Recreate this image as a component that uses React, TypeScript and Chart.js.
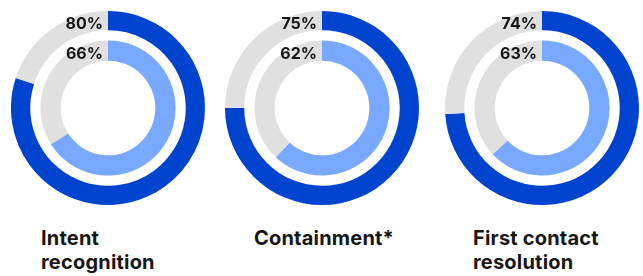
import React, { useEffect, useRef } from "react";
import { Chart, registerables } from "chart.js";

Chart.register(...registerables);

const categories = ["Intent\nrecognition", "Containment*", "First contact\nresolution"];
const outerValues = [80, 75, 74];
const innerValues = [66, 62, 63];

const OUTER_COLOR = "#0043ce";
const INNER_COLOR = "#78a9ff";
const GREY = "#e0e0e0";
const TEXT = "#161616";

const centersX = [108, 322, 542];
const titleLeft = [41, 254, 473];
const RADIUS = 97;
const CENTER_Y = 108;

const labelPlugin = {
  id: "ringLabels",
  afterDatasetsDraw(chart: any) {
    const ctx = chart.ctx;
    ctx.save();
    ctx.font = "700 16px Inter, 'Noto Sans', sans-serif";
    ctx.fillStyle = TEXT;
    ctx.textAlign = "right";
    ctx.textBaseline = "middle";
    [0, 2].forEach((di) => {
      const meta = chart.getDatasetMeta(di);
      const arc: any = meta.data[0];
      if (!arc) return;
      const { x, y, innerRadius, outerRadius } = arc.getProps(["x", "y", "innerRadius", "outerRadius"], true);
      const mid = (innerRadius + outerRadius) / 2;
      const v = chart.data.datasets[di].data[0];
      ctx.fillText(v + "%", x - 5, y - mid + 4);
    });
    ctx.restore();
  },
};

function Donut({ outer, inner }: { outer: number; inner: number }) {
  const ref = useRef<HTMLCanvasElement>(null);
  useEffect(() => {
    const chart = new Chart(ref.current!, {
      type: "doughnut",
      data: {
        labels: ["value", "rest"],
        datasets: [
          { data: [outer, 100 - outer], backgroundColor: [OUTER_COLOR, GREY], borderWidth: 0, weight: 19 } as any,
          { data: [1], backgroundColor: ["rgba(0,0,0,0)"], borderWidth: 0, weight: 10 } as any,
          { data: [inner, 100 - inner], backgroundColor: [INNER_COLOR, GREY], borderWidth: 0, weight: 20 } as any,
        ],
      },
      options: {
        animation: false,
        responsive: false,
        maintainAspectRatio: false,
        cutout: "48.8%",
        layout: { padding: 0 },
        plugins: { legend: { display: false }, tooltip: { enabled: false } },
        events: [],
      } as any,
      plugins: [labelPlugin],
    });
    return () => chart.destroy();
  }, [outer, inner]);
  return <canvas ref={ref} width={RADIUS * 2} height={RADIUS * 2} style={{ width: RADIUS * 2, height: RADIUS * 2, display: "block" }} />;
}

export default function App() {
  return (
    <div style={{ position: "absolute", left: 0, top: 0, width: 643, height: 276, background: "#fff", overflow: "hidden" }}>
      {categories.map((c, i) => (
        <React.Fragment key={c}>
          <div style={{ position: "absolute", left: centersX[i] - RADIUS, top: CENTER_Y - RADIUS }}>
            <Donut outer={outerValues[i]} inner={innerValues[i]} />
          </div>
          <div
            style={{
              position: "absolute",
              left: titleLeft[i],
              top: 226,
              font: "700 20px/24px Inter, 'Noto Sans', sans-serif",
              letterSpacing: "0.2px",
              color: TEXT,
              whiteSpace: "pre",
            }}
          >
            {c}
          </div>
        </React.Fragment>
      ))}
    </div>
  );
}
